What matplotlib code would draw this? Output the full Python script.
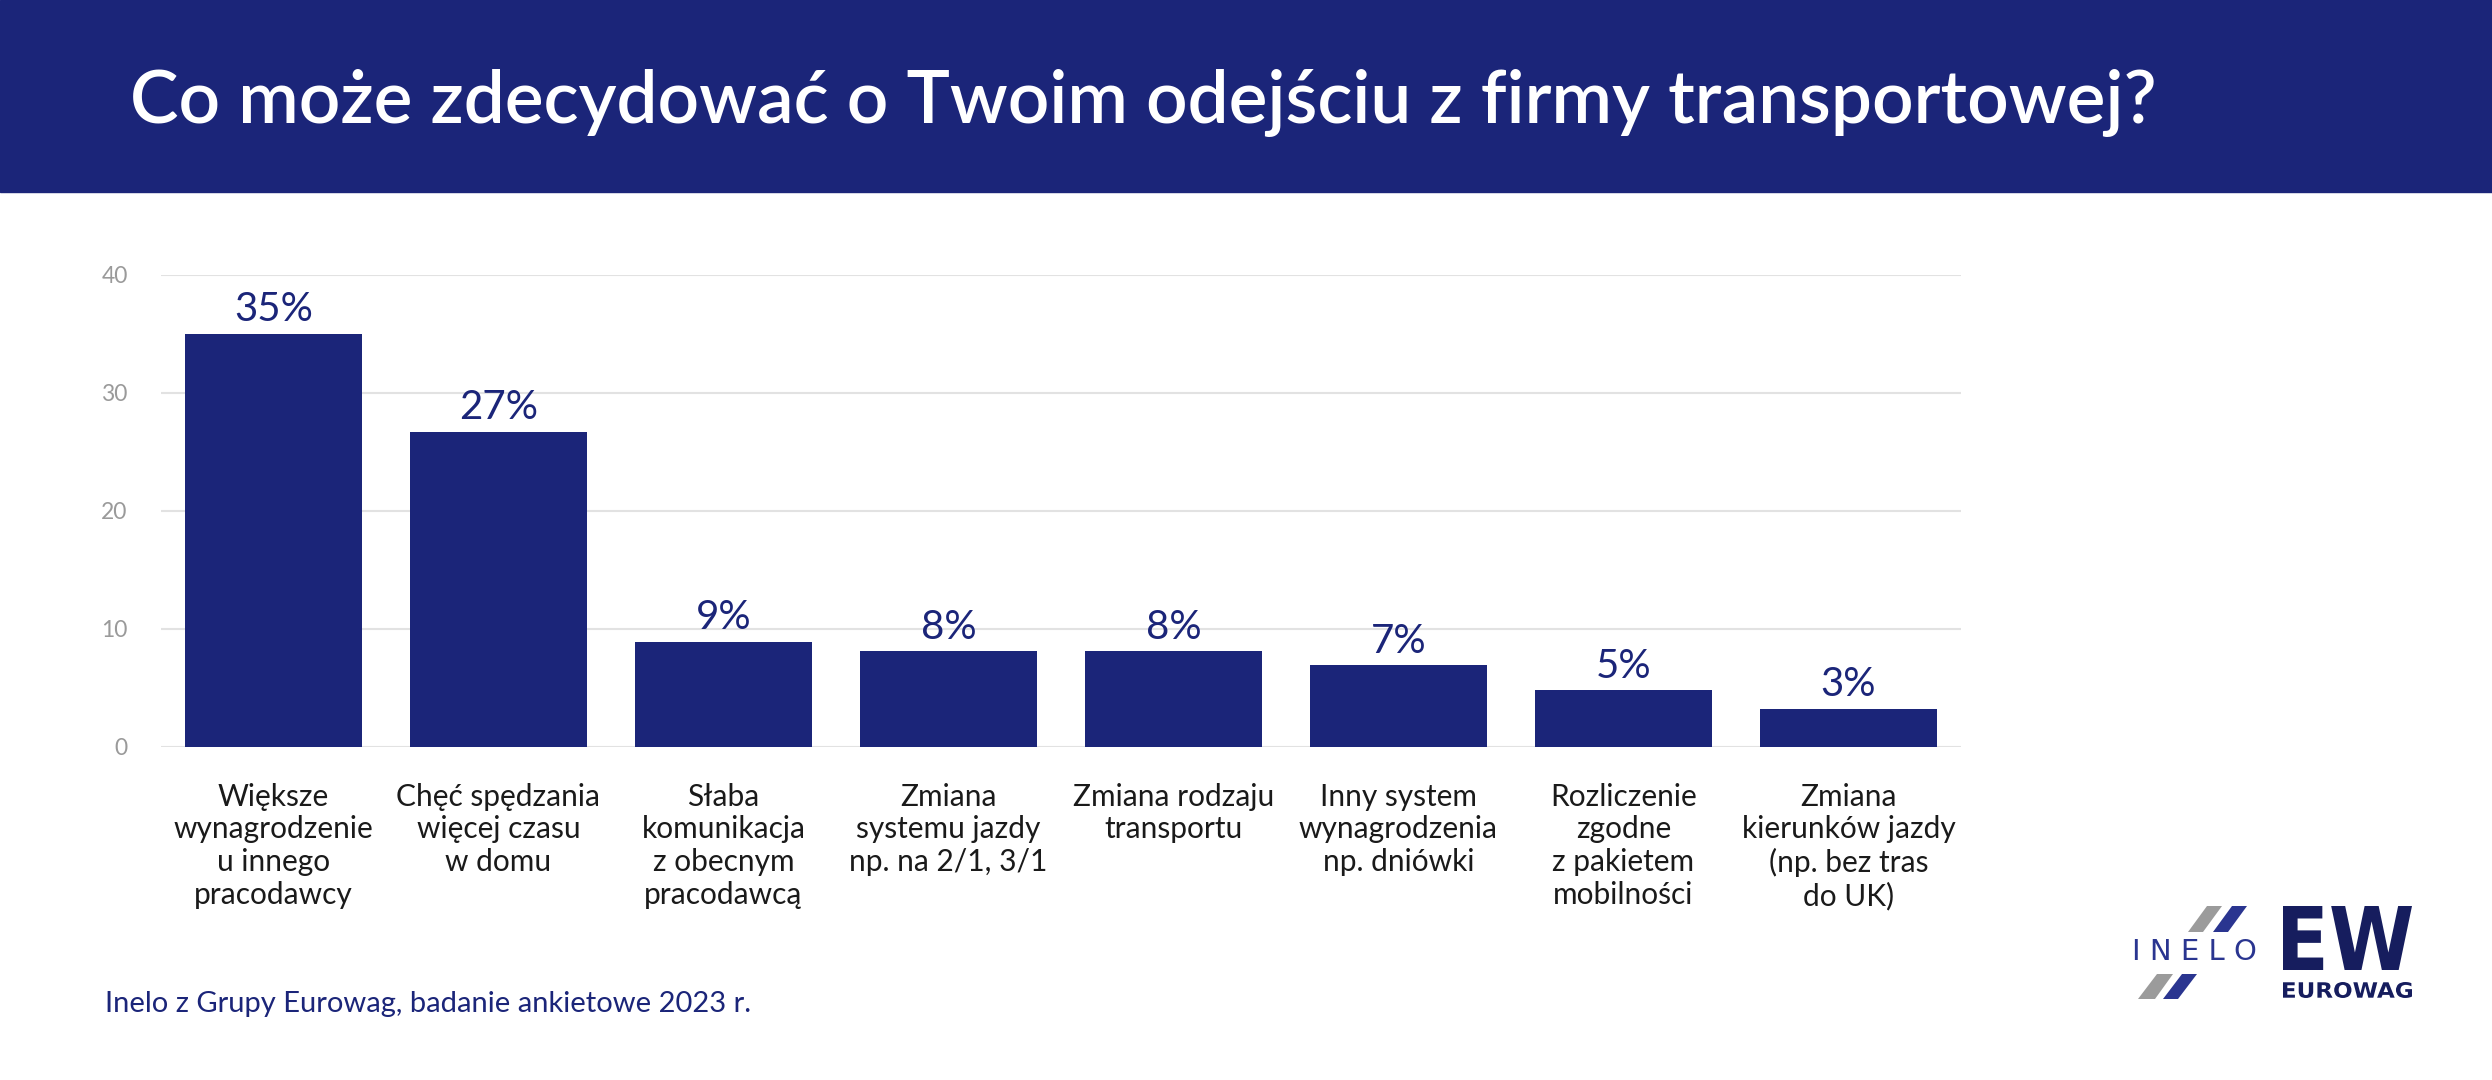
import matplotlib
matplotlib.use("Agg")
import matplotlib.pyplot as plt
from matplotlib.patches import Rectangle, Polygon, PathPatch
from matplotlib.textpath import TextPath
from matplotlib.font_manager import FontProperties
from matplotlib.transforms import Affine2D

NAVY = "#1b2579"
GRAY = "#9a9a9a"
W, H = 2492, 1080

title = "Co może zdecydować o Twoim odejściu z firmy transportowej?"
source = "Inelo z Grupy Eurowag, badanie ankietowe 2023 r."
categories = [
    "Większe\nwynagrodzenie\nu innego\npracodawcy",
    "Chęć spędzania\nwięcej czasu\nw domu",
    "Słaba\nkomunikacja\nz obecnym\npracodawcą",
    "Zmiana\nsystemu jazdy\nnp. na 2/1, 3/1",
    "Zmiana rodzaju\ntransportu",
    "Inny system\nwynagrodzenia\nnp. dniówki",
    "Rozliczenie\nzgodne\nz pakietem\nmobilności",
    "Zmiana\nkierunków jazdy\n(np. bez tras\ndo UK)",
]
values = [35.0, 26.7, 8.9, 8.1, 8.1, 6.9, 4.8, 3.2]
value_labels = ["35%", "27%", "9%", "8%", "8%", "7%", "5%", "3%"]
yticks = [0, 10, 20, 30, 40]

plt.rcParams["font.family"] = ["Lato", "DejaVu Sans"]

fig = plt.figure(figsize=(W / 100, H / 100), dpi=100)
fig.patch.set_facecolor("white")

# header band
fig.patches.append(Rectangle((0, 1 - 192 / H), 1, 192 / H, transform=fig.transFigure,
                             color=NAVY, zorder=0))
fig.text(130 / W, 1 - 103 / H, title, color="white", fontsize=52.5, fontweight="semibold",
         va="center", ha="left")

ax = fig.add_axes([161 / W, 1 - 746.7 / H, 1800 / W, (746.7 - 274.7) / H])
x = list(range(len(values)))
ax.bar(x, values, width=0.787, color=NAVY, zorder=3)
ax.set_xlim(-0.5, len(values) - 0.5)
ax.set_ylim(0, 40)
ax.set_yticks(yticks)
ax.set_yticklabels([str(t) for t in yticks])
ax.grid(axis="y", color="#e2e2e2", linewidth=1.5, zorder=0)
ax.set_axisbelow(True)
for s in ax.spines.values():
    s.set_visible(False)
ax.tick_params(axis="y", length=0, pad=24, labelsize=16.5, labelcolor=GRAY)
ax.tick_params(axis="x", length=0, pad=26)
ax.set_xticks(x)
ax.set_xticklabels(categories, fontsize=21.5, color="#1a1a1a",
                   linespacing=1.2, va="top")

for xi, v, lab in zip(x, values, value_labels):
    ax.annotate(lab, (xi, v), xytext=(0, 9), textcoords="offset points",
                ha="center", va="baseline", fontsize=29, color=NAVY)

fig.text(105 / W, 1 - 1004 / H, source, color=NAVY, fontsize=21, va="center", ha="left")

# logo layer in pixel coordinates
lax = fig.add_axes([0, 0, 1, 1])
lax.set_xlim(0, W)
lax.set_ylim(H, 0)
lax.axis("off")
lax.patch.set_alpha(0)

stripes = [
    ([(2207, 906), (2222, 906), (2203, 932), (2188, 932)], "#9b9b9b"),
    ([(2232, 906), (2247, 906), (2228, 932), (2213, 932)], "#2a3590"),
    ([(2157, 974), (2173, 974), (2155, 999), (2138, 999)], "#9b9b9b"),
    ([(2182, 974), (2197, 974), (2178, 999), (2163, 999)], "#2a3590"),
]
for pts, c in stripes:
    lax.add_patch(Polygon(pts, closed=True, color=c, lw=0))

lax.text(2194, 952, "I N E L O", ha="center", va="center", fontsize=21,
         color="#2a3590", family="DejaVu Sans")


def fit_text(s, x0, x1, y0, y1, weight, color):
    tp = TextPath((0, 0), s, size=100, prop=FontProperties(family="DejaVu Sans", weight=weight))
    bb = tp.get_extents()
    t = (Affine2D().translate(-bb.x0, -bb.y0)
         .scale((x1 - x0) / bb.width, -(y1 - y0) / bb.height)
         .translate(x0, y1))
    lax.add_patch(PathPatch(t.transform_path(tp), color=color, lw=0))


fit_text("EW", 2283, 2412, 906, 970, "heavy", "#161d5e")
fit_text("EUROWAG", 2283, 2412, 982, 998, "bold", "#161d5e")

fig.savefig("out.png", dpi=100)
